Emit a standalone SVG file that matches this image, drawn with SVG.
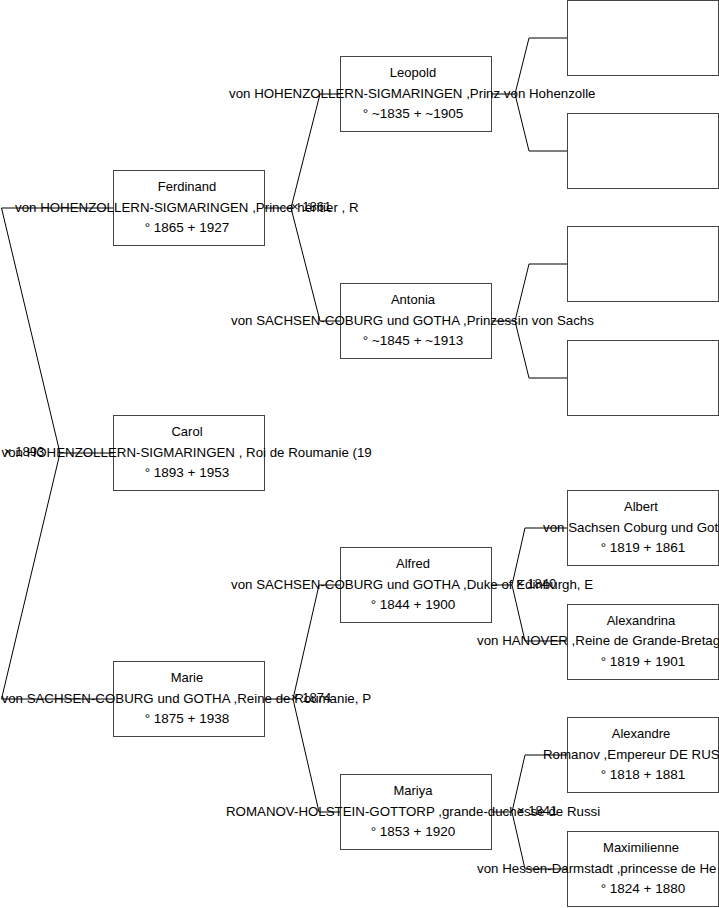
<svg xmlns="http://www.w3.org/2000/svg" width="719" height="908" viewBox="0 0 719 908">
<style>
.box{fill:#fff;stroke:#444;stroke-width:1}
.t{font-family:"Liberation Sans",Arial,sans-serif;font-size:13px;fill:#000}
.n{font-size:13.3px}
.d{font-size:13.5px}
.c{text-anchor:middle}
.lk{fill:none;stroke:#000;stroke-width:1}
</style>
<rect width="719" height="908" fill="#fff"/>
<g id="connectors">
<path class="lk" d="M113.5,208 H1.5 L60,453 L1.5,699 H113.5 M60,453 H113.5"/>
<path class="lk" d="M264.5,208 H291 M320,94 H340.5 M320,94 L291,208 L320,321 H340.5"/>
<path class="lk" d="M264.5,699 H293 M319,585 H340.5 M319,585 L293,699 L319,812 H340.5"/>
<path class="lk" d="M491.5,94 H515 M529,38 H567.5 M529,38 L515,94 L529,151 H567.5"/>
<path class="lk" d="M491.5,321 H515 M529,264 H567.5 M529,264 L515,321 L529,378 H567.5"/>
<path class="lk" d="M491.5,585 H512 M525,528 H567.5 M525,528 L512,585 L525,641 H567.5"/>
<path class="lk" d="M491.5,812 H512 M525,755 H567.5 M525,755 L512,812 L525,869 H567.5"/>
</g>
<g id="marriages" class="t">
<text x="291" y="211">× 1861</text>
<text x="4" y="456">× 1893</text>
<text x="291" y="702">× 1874</text>
<text x="516" y="588">× 1840</text>
<text x="517" y="815">× 1841</text>
</g>
<g id="ferdinand">
<rect class="box" x="113.5" y="170.5" width="151" height="75"/>
<text class="t c" x="187" y="191">Ferdinand</text>
<text class="t n" x="15" y="212">von HOHENZOLLERN-SIGMARINGEN ,Prince héritier , R</text>
<text class="t d c" x="187" y="232">° 1865 + 1927</text>
</g>
<g id="carol">
<rect class="box" x="113.5" y="415.5" width="151" height="75"/>
<text class="t c" x="187" y="436">Carol</text>
<text class="t n" x="1.5" y="457">von HOHENZOLLERN-SIGMARINGEN , Roi de Roumanie (19</text>
<text class="t d c" x="187" y="477">° 1893 + 1953</text>
</g>
<g id="marie">
<rect class="box" x="113.5" y="661.5" width="151" height="75"/>
<text class="t c" x="187" y="682">Marie</text>
<text class="t n" x="1.5" y="703">von SACHSEN-COBURG und GOTHA ,Reine de Roumanie, P</text>
<text class="t d c" x="187" y="723">° 1875 + 1938</text>
</g>
<g id="leopold">
<rect class="box" x="340.5" y="56.5" width="151" height="75"/>
<text class="t c" x="413" y="77">Leopold</text>
<text class="t n" x="229" y="98">von HOHENZOLLERN-SIGMARINGEN ,Prinz von Hohenzolle</text>
<text class="t d c" x="413" y="118">° ~1835 + ~1905</text>
</g>
<g id="antonia">
<rect class="box" x="340.5" y="283.5" width="151" height="75"/>
<text class="t c" x="413" y="304">Antonia</text>
<text class="t n" x="231" y="325">von SACHSEN-COBURG und GOTHA ,Prinzessin von Sachs</text>
<text class="t d c" x="413" y="345">° ~1845 + ~1913</text>
</g>
<g id="alfred">
<rect class="box" x="340.5" y="547.5" width="151" height="75"/>
<text class="t c" x="413" y="568">Alfred</text>
<text class="t n" x="231" y="589">von SACHSEN-COBURG und GOTHA ,Duke of Edinburgh, E</text>
<text class="t d c" x="413" y="609">° 1844 + 1900</text>
</g>
<g id="mariya">
<rect class="box" x="340.5" y="774.5" width="151" height="75"/>
<text class="t c" x="413" y="795">Mariya</text>
<text class="t n" x="226" y="816">ROMANOV-HOLSTEIN-GOTTORP ,grande-duchesse de Russi</text>
<text class="t d c" x="413" y="836">° 1853 + 1920</text>
</g>
<g id="ff"><rect class="box" x="567.5" y="0.5" width="151" height="75"/></g>
<g id="fm"><rect class="box" x="567.5" y="113.5" width="151" height="75"/></g>
<g id="mf"><rect class="box" x="567.5" y="226.5" width="151" height="75"/></g>
<g id="mm"><rect class="box" x="567.5" y="340.5" width="151" height="75"/></g>
<g id="albert">
<rect class="box" x="567.5" y="490.5" width="151" height="75"/>
<text class="t c" x="641" y="511">Albert</text>
<text class="t n" x="543" y="532">von Sachsen Coburg und Got</text>
<text class="t d c" x="643" y="552">° 1819 + 1861</text>
</g>
<g id="alexandrina">
<rect class="box" x="567.5" y="604.5" width="151" height="75"/>
<text class="t c" x="641" y="625">Alexandrina</text>
<text class="t n" x="477" y="645">von HANOVER ,Reine de Grande-Bretag</text>
<text class="t d c" x="643" y="666">° 1819 + 1901</text>
</g>
<g id="alexandre">
<rect class="box" x="567.5" y="717.5" width="151" height="75"/>
<text class="t c" x="641" y="738">Alexandre</text>
<text class="t n" x="543" y="759">Romanov ,Empereur DE RUS</text>
<text class="t d c" x="643" y="779">° 1818 + 1881</text>
</g>
<g id="maximilienne">
<rect class="box" x="567.5" y="831.5" width="151" height="75"/>
<text class="t c" x="641" y="852">Maximilienne</text>
<text class="t n" x="477" y="873">von Hessen-Darmstadt ,princesse de He</text>
<text class="t d c" x="643" y="893">° 1824 + 1880</text>
</g>
</svg>
